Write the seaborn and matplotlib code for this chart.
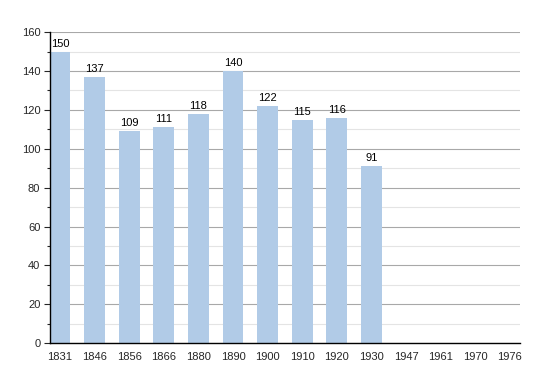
import matplotlib
matplotlib.use("Agg")
import matplotlib.pyplot as plt
import seaborn as sns
import pandas as pd
import numpy as np
from matplotlib.ticker import MultipleLocator

# Population by census year (no data after 1930)
years = ["1831", "1846", "1856", "1866", "1880", "1890", "1900",
         "1910", "1920", "1930", "1947", "1961", "1970", "1976"]
population = [150, 137, 109, 111, 118, 140, 122, 115, 116, 91,
              np.nan, np.nan, np.nan, np.nan]

df = pd.DataFrame({"year": years, "population": population})

sns.set_style("white")
plt.rcParams['font.family'] = ['Liberation Sans', 'DejaVu Sans']

fig = plt.figure(figsize=(5.5, 3.73), dpi=100)
ax = fig.add_axes([0.091, 0.080, 0.854, 0.834])

sns.barplot(data=df, x="year", y="population", order=years,
            color="#b1cbe7", saturation=1, width=0.6, linewidth=0,
            ax=ax, zorder=3)

# value labels
for i, v in enumerate(population):
    if not np.isnan(v):
        ax.text(i, v + 1.5, f"{int(v)}", ha="center", va="bottom",
                fontsize=8, color="black", zorder=4)

ax.set_xlim(-0.29, len(years) - 1 + 0.29)
ax.set_ylim(0, 160)
ax.yaxis.set_major_locator(MultipleLocator(20))
ax.yaxis.set_minor_locator(MultipleLocator(10))
ax.grid(axis="y", which="major", color="#a8a8a8", linewidth=0.8, zorder=0)
ax.grid(axis="y", which="minor", color="#e4e4e4", linewidth=0.8, zorder=0)
ax.set_axisbelow(True)

for s in ["top", "right"]:
    ax.spines[s].set_visible(False)
for s in ["left", "bottom"]:
    ax.spines[s].set_color("black")
    ax.spines[s].set_linewidth(1.0)
    ax.spines[s].set_zorder(5)

ax.tick_params(axis="y", which="major", left=True, length=4, width=0.8,
               labelsize=8, pad=3)
ax.tick_params(axis="y", which="minor", left=True, length=2, width=0.8)
ax.tick_params(axis="x", bottom=False, labelsize=8, pad=3)
ax.set_xlabel("")
ax.set_ylabel("")

fig.savefig("out.png", dpi=100)
